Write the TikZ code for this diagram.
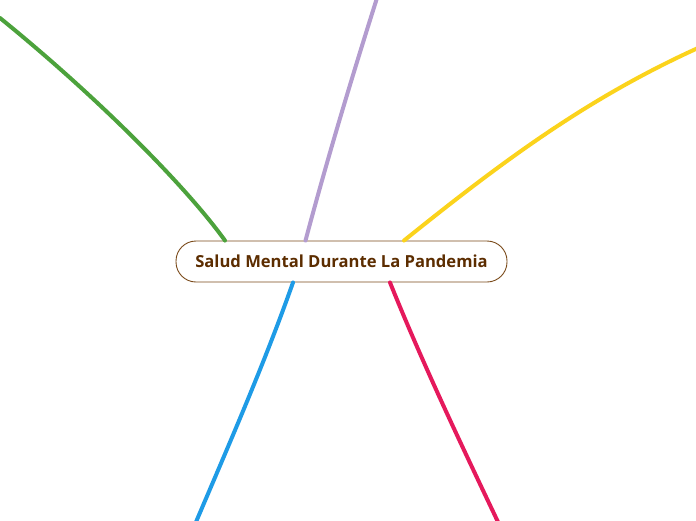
\documentclass[tikz,border=0pt]{standalone}
\usepackage{fontspec}
\setmainfont{Open Sans}
\definecolor{titletext}{HTML}{5C2D00}
\definecolor{titleline}{HTML}{7A4A1A}
\definecolor{brgreen}{HTML}{4CA23C}
\definecolor{brpurple}{HTML}{B39CCF}
\definecolor{bryellow}{HTML}{FBD31C}
\definecolor{brblue}{HTML}{1E9BE6}
\definecolor{brred}{HTML}{E5195C}
\begin{document}
\begin{tikzpicture}[x=1pt, y=-1pt, line cap=round, branch/.style={line width=4pt}]
            \useasboundingbox (0,0) rectangle (696,520);
            \node (Title) [draw=titleline, fill=white, rounded corners=20pt, minimum width=331pt, minimum height=41pt,
                line width=0.9pt, text=titletext, font=\fontsize{16.6}{20}\selectfont\bfseries] at (341.5,261.5)
                {Salud Mental Durante La Pandemia};
            \coordinate (Green)  at (0,18);
            \coordinate (Purple) at (377,-2);
            \coordinate (Yellow) at (698,48);
            \coordinate (Blue)   at (196,522);
            \coordinate (Red)    at (498,522);
            \draw [branch, brgreen]  ([xshift=-116.5pt]Title.north) .. controls (185,185) and (95,95) .. (Green);
            \draw [branch, brpurple] ([xshift=-36pt]Title.north)    .. controls (327,160) and (351,80) .. (Purple);
            \draw [branch, bryellow] ([xshift=62.5pt]Title.north)   .. controls (504,160) and (588,98) .. (Yellow);
            \draw [branch, brblue]   ([xshift=-48.5pt]Title.south)  .. controls (265,362) and (230,442) .. (Blue);
            \draw [branch, brred]    ([xshift=48.5pt]Title.south)   .. controls (422,362) and (460,442) .. (Red);
        \end{tikzpicture}
\end{document}
